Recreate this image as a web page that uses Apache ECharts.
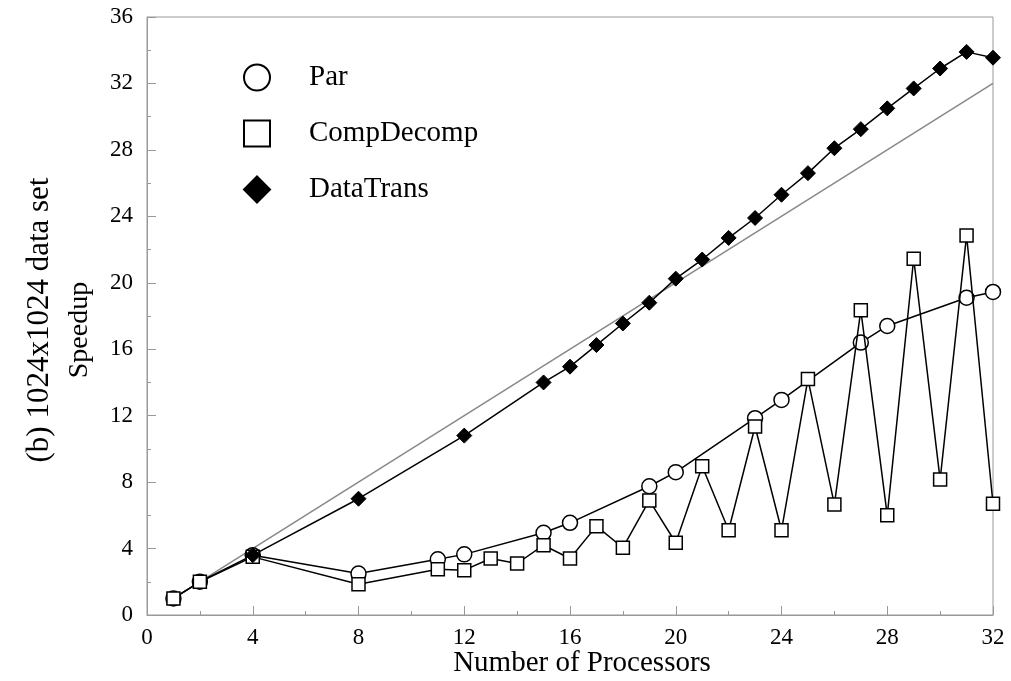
<!DOCTYPE html>
<html>
<head>
<meta charset="utf-8">
<title>Speedup 1024x1024</title>
<script src="https://cdn.jsdelivr.net/npm/echarts@6/dist/echarts.min.js"></script>
<style>
  html, body { margin: 0; padding: 0; background: #fff; }
  #main { width: 1011px; height: 681px; }
</style>
</head>
<body>
<div id="main"></div>
<script>
// 数据：处理器数量 / 加速比
var parX = [1, 2, 4, 8, 11, 12, 15, 16, 19, 20, 23, 24, 27, 28, 31, 32];
var parY = [1.0, 2.0, 3.6, 2.5, 3.35, 3.65, 4.95, 5.55, 7.75, 8.6, 11.85, 12.95, 16.4, 17.4, 19.1, 19.45];

var compX = [1, 2, 4, 8, 11, 12, 13, 14, 15, 16, 17, 18, 19, 20, 21, 22, 23, 24, 25, 26, 27, 28, 29, 30, 31, 32];
var compY = [1.0, 2.0, 3.5, 1.85, 2.75, 2.7, 3.4, 3.1, 4.2, 3.4, 5.35, 4.05, 6.9, 4.35, 8.95, 5.1, 11.35, 5.1, 14.2, 6.65, 18.35, 6.0, 21.45, 8.15, 22.85, 6.7];

var dataX = [4, 8, 12, 15, 16, 17, 18, 19, 20, 21, 22, 23, 24, 25, 26, 27, 28, 29, 30, 31, 32];
var dataY = [3.6, 7.0, 10.8, 14.0, 14.95, 16.25, 17.55, 18.8, 20.25, 21.4, 22.7, 23.9, 25.3, 26.6, 28.1, 29.25, 30.5, 31.7, 32.9, 33.9, 33.55];

// 线性加速比参考线
var idealX = [1, 32];
var idealY = [1, 32];

function pairs(xs, ys) {
    return xs.map(function (x, i) { return [x, ys[i]]; });
}

var serif = '"Liberation Serif", "DejaVu Serif", serif';

var myChart = echarts.init(document.getElementById('main'));
var option = {
    animation: false,
    backgroundColor: '#fff',
    grid: {
        left: 147,
        right: 18,
        top: 17,
        bottom: 66,
        show: true,
        borderColor: '#999',
        borderWidth: 1
    },
    legend: {
        orient: 'vertical',
        left: 238,
        top: 58,
        itemWidth: 26,
        itemHeight: 26,
        itemGap: 27,
        textStyle: {fontFamily: serif, fontSize: 29, color: '#000', padding: [0, 0, 0, 34]},
        data: [
            {name: 'Par', icon: 'circle'},
            {name: 'CompDecomp', icon: 'rect'},
            {name: 'DataTrans', icon: 'diamond'}
        ],
        selectedMode: false
    },
    graphic: [
        {
            type: 'text',
            x: 40,
            y: 320,
            rotation: Math.PI / 2,
            style: {
                text: '(b) 1024x1024 data set',
                font: '31px ' + serif,
                fill: '#000',
                align: 'center',
                verticalAlign: 'middle'
            }
        },
        {
            type: 'text',
            x: 80,
            y: 330,
            rotation: Math.PI / 2,
            style: {
                text: 'Speedup',
                font: '28px ' + serif,
                fill: '#000',
                align: 'center',
                verticalAlign: 'middle'
            }
        },
        {
            type: 'text',
            x: 582,
            y: 663,
            style: {
                text: 'Number of Processors',
                font: '29px ' + serif,
                fill: '#000',
                align: 'center',
                verticalAlign: 'middle'
            }
        }
    ],
    xAxis: {
        type: 'value',
        min: 0,
        max: 32,
        interval: 4,
        axisLine: {lineStyle: {color: '#999', width: 1}},
        axisTick: {inside: true, length: 9, lineStyle: {color: '#999'}},
        minorTick: {show: true, splitNumber: 2, length: 4, lineStyle: {color: '#999'}},
        axisLabel: {fontFamily: serif, fontSize: 23, color: '#000', margin: 11},
        splitLine: {show: false}
    },
    yAxis: {
        type: 'value',
        min: 0,
        max: 36,
        interval: 4,
        axisLine: {show: true, lineStyle: {color: '#999', width: 1}},
        axisTick: {show: true, inside: true, length: 9, lineStyle: {color: '#999'}},
        minorTick: {show: true, splitNumber: 2, length: 4, lineStyle: {color: '#999'}},
        axisLabel: {fontFamily: serif, fontSize: 23, color: '#000', margin: 14},
        splitLine: {show: false}
    },
    series: [
        {
            name: 'ideal',
            type: 'line',
            data: pairs(idealX, idealY),
            symbol: 'none',
            silent: true,
            z: 1,
            lineStyle: {color: '#888', width: 1.5}
        },
        {
            name: 'Par',
            type: 'line',
            data: pairs(parX, parY),
            symbol: 'circle',
            symbolSize: 15,
            z: 3,
            lineStyle: {color: '#000', width: 1.5},
            itemStyle: {color: '#fff', borderColor: '#000', borderWidth: 1.5}
        },
        {
            name: 'CompDecomp',
            type: 'line',
            data: pairs(compX, compY),
            symbol: 'rect',
            symbolSize: 13,
            z: 4,
            lineStyle: {color: '#000', width: 1.5},
            itemStyle: {color: '#fff', borderColor: '#000', borderWidth: 1.5}
        },
        {
            name: 'DataTrans',
            type: 'line',
            data: pairs(dataX, dataY),
            symbol: 'diamond',
            symbolSize: 15,
            z: 5,
            lineStyle: {color: '#000', width: 1.5},
            itemStyle: {color: '#000', borderColor: '#000', borderWidth: 1}
        }
    ]
};
myChart.setOption(option);
</script>
</body>
</html>
